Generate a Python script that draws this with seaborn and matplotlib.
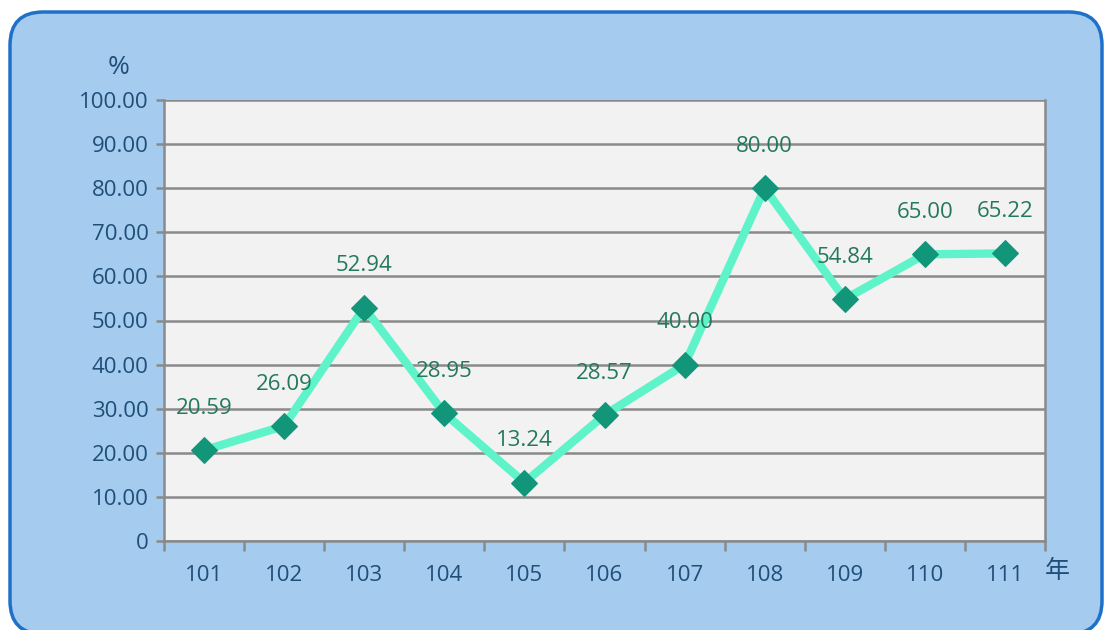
import matplotlib
matplotlib.use("Agg")
import matplotlib.pyplot as plt
from matplotlib.patches import FancyBboxPatch
import seaborn as sns
import pandas as pd
import numpy as np

years = ["101", "102", "103", "104", "105", "106", "107", "108", "109", "110", "111"]
values = [20.59, 26.09, 52.94, 28.95, 13.24, 28.57, 40.00, 80.00, 54.84, 65.00, 65.22]
y_ticks = [0, 10, 20, 30, 40, 50, 60, 70, 80, 90, 100]
y_tick_labels = ["0"] + [f"{v:.2f}" for v in y_ticks[1:]]

sns.set_theme(style="white")
plt.rcParams['font.family'] = ['Open Sans', 'Noto Sans CJK TC', 'DejaVu Sans']

W, H = 1105, 630
fig = plt.figure(figsize=(W / 100, H / 100), dpi=100)
fig.patch.set_facecolor("white")

# rounded background panel
x0, y0, x1, y1 = 10, 12, 1102, 634
panel = FancyBboxPatch((x0 / W, 1 - y1 / H), (x1 - x0) / W, (y1 - y0) / H,
                       boxstyle="round,pad=0,rounding_size=0.03",
                       transform=fig.transFigure, facecolor="#A5CBEE",
                       edgecolor="#1F70C8", linewidth=2.5, zorder=-5,
                       mutation_aspect=W / H)
fig.patches.append(panel)

ax = fig.add_axes([164 / W, 1 - 541 / H, (1045 - 164) / W, (541 - 100) / H])
ax.set_zorder(2)
ax.set_facecolor("#F2F2F2")

df = pd.DataFrame({"x": np.arange(len(years)), "y": values})
sns.lineplot(data=df, x="x", y="y", ax=ax, color="#5FF3C9", linewidth=6,
             marker="D", markersize=13, markerfacecolor="#12967A",
             markeredgecolor="#12967A", zorder=3)

for xi, v in zip(df["x"], df["y"]):
    ax.annotate(f"{v:.2f}", (xi, v), xytext=(0, 30), textcoords="offset points",
                ha="center", va="center", fontsize=16, color="#23795A", zorder=4)

ax.set_xlim(-0.5, len(years) - 0.5)
ax.set_ylim(0, 100)
ax.set_yticks(y_ticks)
ax.set_yticklabels(y_tick_labels)
ax.yaxis.grid(True, color="#8A8A8A", linewidth=1.8)
ax.set_axisbelow(True)

ax.set_xticks(np.arange(len(years)))
ax.set_xticklabels(years)
ax.set_xticks(np.arange(len(years) + 1) - 0.5, minor=True)
ax.tick_params(axis="x", which="major", length=0, pad=17, labelsize=16, labelcolor="#1F4E79")
ax.tick_params(axis="x", which="minor", length=7, width=1.8, color="#8A8A8A", direction="out", bottom=True)
ax.tick_params(axis="y", which="major", length=6, width=1.8, color="#8A8A8A", direction="out",
               left=True, pad=5, labelsize=16, labelcolor="#1F4E79")
ax.set_xlabel("")
ax.set_ylabel("")

for side in ["left", "bottom", "right"]:
    ax.spines[side].set_visible(True)
    ax.spines[side].set_color("#8A8A8A")
    ax.spines[side].set_linewidth(1.8)
ax.spines["top"].set_visible(False)

fig.text(119 / W, 1 - 67 / H, "%", ha="center", va="center", fontsize=19, color="#1F4E79")
fig.text(1057 / W, 1 - 572 / H, "年", ha="center", va="center", fontsize=18, color="#1F4E79")

fig.savefig("out.png", dpi=100)
